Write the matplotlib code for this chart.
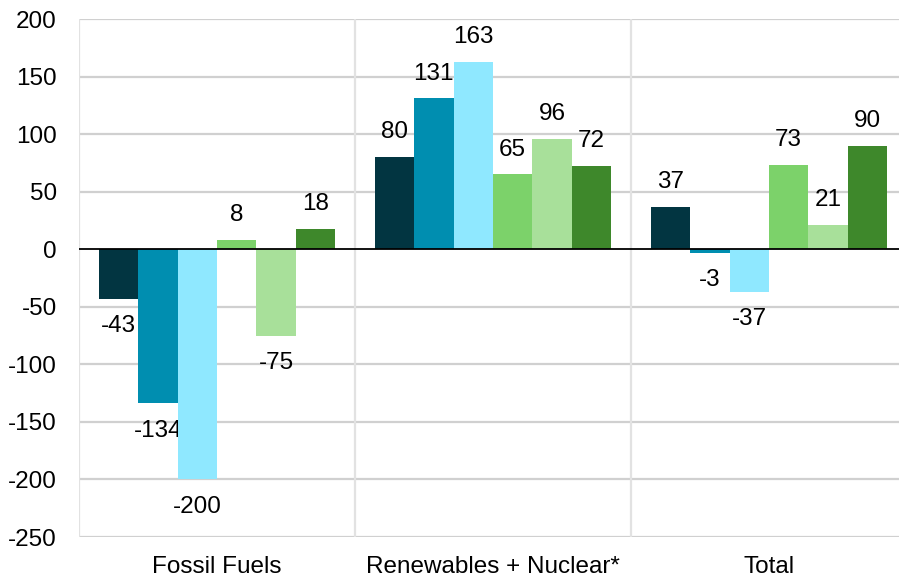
"""Net change by generation source, grouped bar chart."""
import matplotlib.pyplot as plt
import numpy as np

plt.rcParams["font.family"] = ["Liberation Sans", "DejaVu Sans"]

# data
categories = ["Fossil Fuels", "Renewables + Nuclear*", "Total"]
series_1 = [-43, 80, 37]
series_2 = [-134, 131, -3]
series_3 = [-200, 163, -37]
series_4 = [8, 65, 73]
series_5 = [-75, 96, 21]
series_6 = [18, 72, 90]
yticks = [-250, -200, -150, -100, -50, 0, 50, 100, 150, 200]

series = [series_1, series_2, series_3, series_4, series_5, series_6]
colors = ["#023541", "#008EB0", "#8FE8FF", "#7CD26A", "#A8E09A", "#3E882B"]
fsize = 17.5

fig = plt.figure(figsize=(8.99, 5.78), dpi=100)
ax = fig.add_axes([79 / 899, 41 / 578, 820 / 899, 518 / 578])

x = np.arange(len(categories))
width = 0.1431
offsets = (np.arange(len(series)) - (len(series) - 1) / 2) * width

for vals, off, col in zip(series, offsets, colors):
    bars = ax.bar(x + off, vals, width=width, color=col, zorder=3)
    for b, v in zip(bars, vals):
        cx = b.get_x() + b.get_width() / 2
        if v >= 0:
            ax.annotate(str(v), (cx, v), xytext=(0, 10), textcoords="offset points",
                        ha="center", va="bottom", fontsize=fsize, color="black")
        else:
            ax.annotate(str(v), (cx, v), xytext=(0, -12), textcoords="offset points",
                        ha="center", va="top", fontsize=fsize, color="black")

# axes formatting
ax.set_ylim(-250, 200)
ax.set_xlim(-0.5, -0.5 + 820 / 276)
ax.set_yticks(yticks)
ax.set_yticklabels([str(t) for t in yticks], fontsize=fsize)
ax.set_xticks(x)
ax.set_xticklabels(categories, fontsize=fsize)
ax.tick_params(axis="x", length=0, pad=14)
ax.tick_params(axis="y", length=0, pad=16)

for t in yticks:
    if t != 0:
        ax.axhline(t, color="#D0D0D0", linewidth=1.6, zorder=1)
for xs in [-0.5, 0.5, 1.5]:
    ax.axvline(xs, color="#E2E2E2", linewidth=1.6, zorder=1)
ax.axhline(0, color="black", linewidth=1.3, zorder=4)

for s in ax.spines.values():
    s.set_visible(False)

fig.savefig("out.png", dpi=100)
plt.close()
